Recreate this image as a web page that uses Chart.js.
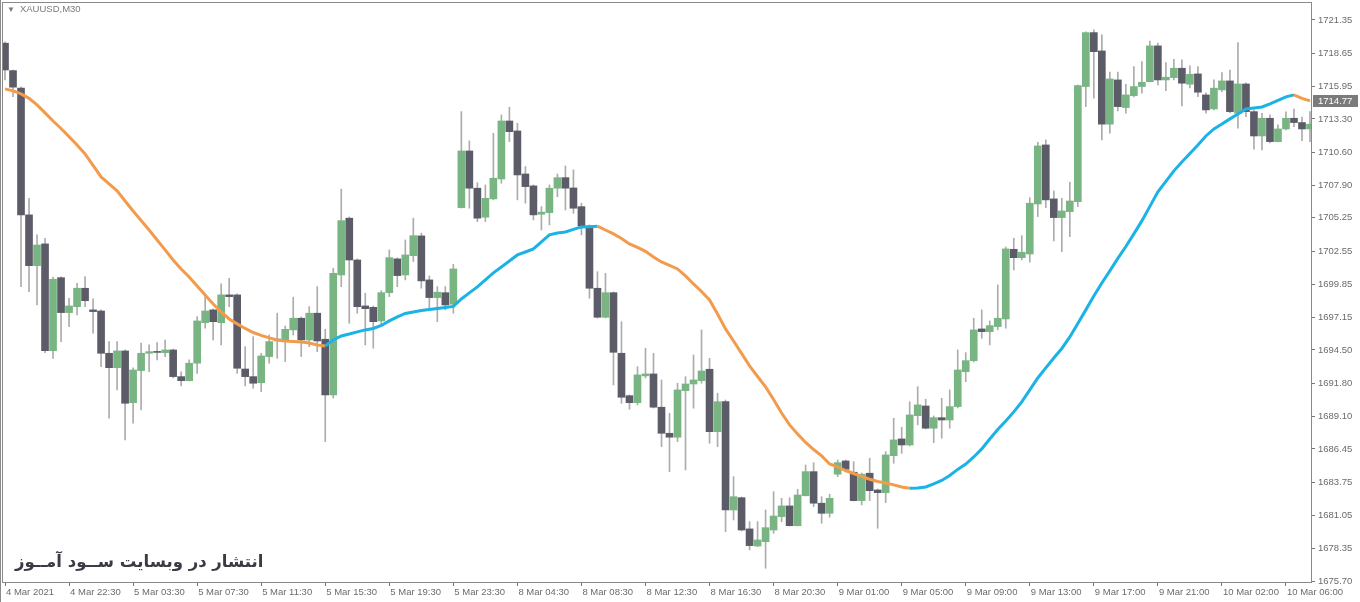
<!DOCTYPE html>
<html>
<head>
<meta charset="utf-8">
<script src="https://cdn.jsdelivr.net/npm/chart.js@4.4.1/dist/chart.umd.min.js"></script>
<style>
html, body { margin: 0; padding: 0; background: #fff; }
#wrap { position: relative; width: 1360px; height: 602px; overflow: hidden; }
canvas { display: block; }
#symbol { position: absolute; left: 7px; top: 3px; font: 9.5px "Liberation Sans", Arial, sans-serif; color: #7a7a7a; line-height: 12px; }
#symbol span { font-size: 8px; margin-right: 5px; }
#watermark { position: absolute; left: 15px; top: 552px; font: bold 16.5px "DejaVu Sans", sans-serif; color: #3b3b45; direction: rtl; white-space: nowrap; }
</style>
</head>
<body>
<div id="wrap">
<canvas id="chart" width="1360" height="602"></canvas>
<div id="symbol"><span>▼</span>XAUUSD,M30</div>
<div id="watermark">انتشار در وبسایت ســود آمــوز</div>
</div>
<script>
// XAUUSD M30 candles with a colour-by-slope moving average
var timeLabels = ['4 Mar 2021', '4 Mar 22:30', '5 Mar 03:30', '5 Mar 07:30', '5 Mar 11:30', '5 Mar 15:30',
    '5 Mar 19:30', '5 Mar 23:30', '8 Mar 04:30', '8 Mar 08:30', '8 Mar 12:30', '8 Mar 16:30', '8 Mar 20:30',
    '9 Mar 01:00', '9 Mar 05:00', '9 Mar 09:00', '9 Mar 13:00', '9 Mar 17:00', '9 Mar 21:00',
    '10 Mar 02:00', '10 Mar 06:00'];
var labelEvery = 8; // one time label every 8 bars

var yTickValues = [1721.35, 1718.65, 1715.95, 1713.30, 1710.60, 1707.90, 1705.25, 1702.55, 1699.85,
    1697.15, 1694.50, 1691.80, 1689.10, 1686.45, 1683.75, 1681.05, 1678.35, 1675.70];

var opens = [1719.46, 1717.23, 1715.80, 1705.49, 1701.36, 1703.13, 1694.44, 1700.38, 1697.54, 1698.02,
    1699.52, 1697.76, 1697.67, 1694.23, 1693.06, 1694.42, 1690.21, 1692.82, 1694.23, 1694.38,
    1694.28, 1694.50, 1692.33, 1692.00, 1693.42, 1696.72, 1697.76, 1696.72, 1698.98, 1698.98,
    1692.95, 1692.33, 1691.84, 1693.96, 1695.23, 1695.31, 1696.13, 1697.08, 1695.31, 1697.49,
    1695.37, 1690.84, 1700.60, 1705.22, 1701.82, 1698.08, 1697.97, 1696.86, 1699.16, 1701.91,
    1700.60, 1702.17, 1703.78, 1700.20, 1698.76, 1699.16, 1698.22, 1706.08, 1710.69, 1707.66,
    1705.30, 1706.79, 1708.41, 1713.13, 1712.32, 1708.82, 1707.85, 1705.54, 1705.67, 1707.66,
    1708.52, 1707.68, 1706.16, 1704.59, 1699.52, 1697.16, 1699.16, 1694.23, 1690.78, 1690.21,
    1692.39, 1692.55, 1689.84, 1687.72, 1687.40, 1691.19, 1691.73, 1692.00, 1692.93, 1687.85,
    1690.29, 1681.48, 1682.48, 1679.94, 1678.55, 1678.90, 1679.85, 1680.94, 1681.81, 1680.20,
    1682.64, 1684.60, 1682.03, 1681.21, 1684.39, 1685.47, 1684.55, 1682.24, 1684.47, 1683.11,
    1682.89, 1685.90, 1687.26, 1686.77, 1689.15, 1689.94, 1688.13, 1688.99, 1688.80, 1689.89,
    1692.73, 1693.63, 1696.21, 1695.99, 1696.40, 1697.02, 1702.69, 1702.01, 1702.31, 1706.38,
    1711.18, 1706.79, 1705.27, 1705.75, 1706.57, 1715.93, 1720.32, 1718.83, 1712.87, 1716.47,
    1714.22, 1715.19, 1715.93, 1716.33, 1719.24, 1716.47, 1716.66, 1717.42, 1716.12, 1716.96,
    1715.25, 1714.11, 1715.66, 1716.39, 1713.76, 1716.14, 1713.89, 1711.91, 1713.35, 1711.45,
    1712.48, 1713.35, 1713.00, 1712.48];

var highs = [1719.56, 1717.28, 1715.90, 1706.84, 1703.86, 1703.59, 1700.42, 1700.44, 1698.71, 1699.93,
    1700.46, 1698.65, 1697.76, 1695.18, 1695.18, 1694.50, 1693.04, 1695.05, 1694.91, 1695.09,
    1695.31, 1694.58, 1692.73, 1693.69, 1697.21, 1698.98, 1697.84, 1699.87, 1700.33, 1699.06,
    1694.77, 1695.58, 1694.23, 1695.72, 1697.49, 1696.45, 1698.79, 1697.19, 1698.02, 1699.65,
    1696.18, 1701.15, 1707.58, 1705.32, 1701.91, 1699.11, 1698.08, 1699.33, 1702.64, 1701.99,
    1703.45, 1705.22, 1704.00, 1700.52, 1699.65, 1699.65, 1701.47, 1713.89, 1711.51, 1708.11,
    1707.93, 1712.13, 1713.62, 1714.25, 1712.95, 1709.42, 1707.93, 1706.16, 1707.93, 1708.82,
    1709.47, 1709.15, 1706.44, 1704.67, 1700.87, 1700.74, 1699.22, 1696.80, 1690.84, 1693.14,
    1694.64, 1694.23, 1692.06, 1689.35, 1691.79, 1692.33, 1694.09, 1696.13, 1693.82, 1690.98,
    1690.43, 1684.19, 1682.54, 1680.53, 1680.53, 1681.48, 1682.97, 1682.43, 1682.48, 1683.17,
    1685.14, 1685.33, 1682.56, 1682.76, 1685.55, 1685.55, 1685.41, 1684.49, 1685.69, 1683.19,
    1686.23, 1688.94, 1688.21, 1690.29, 1691.51, 1690.49, 1689.13, 1690.57, 1691.25, 1694.50,
    1694.28, 1697.08, 1697.76, 1696.86, 1699.79, 1702.88, 1703.59, 1703.80, 1706.89, 1711.40,
    1711.59, 1707.44, 1706.84, 1708.15, 1716.06, 1720.38, 1720.54, 1720.13, 1717.10, 1717.10,
    1716.12, 1717.55, 1717.96, 1719.64, 1719.46, 1717.88, 1718.15, 1718.10, 1717.61, 1717.55,
    1715.41, 1716.47, 1717.06, 1717.28, 1719.51, 1716.23, 1714.03, 1713.76, 1713.62, 1712.81,
    1713.87, 1714.09, 1713.44, 1713.89];

var lows = [1716.47, 1715.11, 1699.65, 1699.24, 1698.16, 1694.28, 1693.82, 1695.18, 1696.40, 1697.35,
    1698.02, 1695.86, 1693.14, 1688.94, 1691.25, 1687.18, 1688.54, 1689.62, 1692.73, 1693.69,
    1693.96, 1692.22, 1691.57, 1691.98, 1692.60, 1696.27, 1695.31, 1694.91, 1698.02, 1692.60,
    1691.57, 1691.38, 1691.11, 1693.42, 1693.82, 1693.55, 1695.72, 1693.96, 1694.77, 1694.36,
    1687.04, 1690.59, 1699.65, 1696.67, 1697.49, 1694.91, 1694.64, 1696.62, 1698.84, 1699.65,
    1700.20, 1701.69, 1699.52, 1697.89, 1696.80, 1697.76, 1697.49, 1706.05, 1706.03, 1704.94,
    1704.94, 1706.71, 1708.06, 1711.45, 1706.71, 1706.44, 1705.08, 1704.26, 1704.67, 1706.97,
    1705.89, 1705.62, 1703.86, 1698.71, 1697.10, 1697.10, 1691.65, 1690.16, 1689.68, 1690.03,
    1692.22, 1689.78, 1686.63, 1684.60, 1687.04, 1684.74, 1689.76, 1691.79, 1686.91, 1686.63,
    1679.72, 1680.67, 1679.77, 1678.23, 1678.50, 1676.74, 1679.58, 1680.53, 1680.18, 1680.18,
    1682.62, 1681.75, 1680.40, 1680.89, 1684.19, 1684.57, 1682.21, 1681.89, 1682.24, 1679.99,
    1682.08, 1685.28, 1686.09, 1686.69, 1688.40, 1688.07, 1686.96, 1687.32, 1688.13, 1689.78,
    1691.92, 1693.52, 1695.45, 1694.91, 1696.13, 1696.27, 1701.01, 1701.82, 1701.64, 1705.35,
    1706.08, 1703.37, 1702.50, 1703.72, 1706.16, 1714.30, 1714.98, 1711.59, 1712.13, 1713.95,
    1713.76, 1715.09, 1715.39, 1716.31, 1716.06, 1715.60, 1716.47, 1714.35, 1715.82, 1715.11,
    1713.76, 1714.03, 1715.49, 1713.79, 1712.54, 1713.48, 1710.83, 1710.77, 1711.34, 1711.42,
    1712.40, 1712.67, 1711.53, 1711.45];

var closes = [1717.28, 1715.88, 1705.49, 1701.36, 1703.04, 1694.44, 1700.25, 1697.54, 1698.08, 1699.52,
    1698.51, 1697.62, 1694.23, 1693.06, 1694.42, 1690.16, 1692.87, 1694.23, 1694.36, 1694.30,
    1694.50, 1692.33, 1692.00, 1693.42, 1696.86, 1697.67, 1696.80, 1698.98, 1698.84, 1693.01,
    1692.33, 1691.79, 1694.01, 1695.18, 1695.40, 1696.18, 1697.08, 1695.31, 1697.49, 1695.23,
    1690.84, 1700.74, 1705.02, 1701.82, 1698.02, 1697.86, 1696.80, 1699.16, 1702.01, 1700.55,
    1702.23, 1703.80, 1700.12, 1698.76, 1699.20, 1698.16, 1701.09, 1710.69, 1707.66, 1705.22,
    1706.84, 1708.47, 1713.13, 1712.26, 1708.74, 1707.79, 1705.49, 1705.71, 1707.66, 1708.52,
    1707.66, 1706.03, 1704.59, 1699.52, 1697.16, 1699.16, 1694.31, 1690.65, 1690.21, 1692.47,
    1692.55, 1689.84, 1687.72, 1687.40, 1691.25, 1691.73, 1692.06, 1692.79, 1687.85, 1690.29,
    1681.48, 1682.56, 1679.85, 1678.58, 1679.04, 1680.04, 1680.99, 1681.81, 1680.20, 1682.70,
    1684.60, 1682.03, 1681.21, 1682.43, 1685.33, 1684.79, 1682.24, 1684.39, 1683.05, 1682.89,
    1685.96, 1687.18, 1686.77, 1689.21, 1690.03, 1688.13, 1688.99, 1688.80, 1689.89, 1692.87,
    1693.63, 1696.13, 1695.99, 1696.48, 1697.08, 1702.72, 1702.01, 1702.45, 1706.44, 1711.10,
    1706.71, 1705.27, 1705.81, 1706.62, 1716.01, 1720.32, 1718.77, 1712.87, 1716.55, 1714.30,
    1715.25, 1715.93, 1716.28, 1719.24, 1716.47, 1716.69, 1717.42, 1716.20, 1716.93, 1715.47,
    1714.03, 1715.80, 1716.39, 1713.89, 1716.14, 1713.89, 1711.91, 1713.35, 1711.45, 1712.48,
    1713.35, 1713.00, 1712.48, 1712.87];

var maValues = [1715.74, 1715.58, 1715.33, 1714.97, 1714.44, 1713.79, 1713.13, 1712.52, 1711.86, 1711.18,
    1710.45, 1709.51, 1708.58, 1708.01, 1707.44, 1706.62, 1705.81, 1705.04, 1704.26, 1703.45,
    1702.64, 1701.82, 1701.09, 1700.44, 1699.71, 1698.98, 1698.24, 1697.59, 1697.02, 1696.62,
    1696.25, 1695.92, 1695.68, 1695.48, 1695.31, 1695.23, 1695.19, 1695.15, 1695.07, 1694.91,
    1694.83, 1695.31, 1695.64, 1695.80, 1695.97, 1696.13, 1696.25, 1696.49, 1696.86, 1697.19,
    1697.47, 1697.59, 1697.71, 1697.80, 1697.88, 1697.96, 1698.04, 1698.65, 1699.14, 1699.63,
    1700.20, 1700.77, 1701.25, 1701.74, 1702.23, 1702.47, 1702.72, 1703.29, 1703.86, 1704.02,
    1704.10, 1704.31, 1704.51, 1704.53, 1704.57, 1704.26, 1703.94, 1703.57, 1703.13, 1702.84,
    1702.52, 1702.07, 1701.66, 1701.38, 1701.09, 1700.52, 1699.87, 1699.26, 1698.57, 1697.43,
    1696.21, 1695.23, 1694.22, 1693.20, 1692.34, 1691.49, 1690.47, 1689.37, 1688.40, 1687.67,
    1686.97, 1686.40, 1685.88, 1685.22, 1684.98, 1684.69, 1684.45, 1684.21, 1683.98, 1683.80,
    1683.68, 1683.52, 1683.35, 1683.25, 1683.27, 1683.35, 1683.60, 1683.88, 1684.29, 1684.78,
    1685.22, 1685.79, 1686.45, 1687.26, 1688.03, 1688.72, 1689.46, 1690.27, 1691.25, 1692.22,
    1693.04, 1693.85, 1694.62, 1695.56, 1696.66, 1697.76, 1698.89, 1699.95, 1700.93, 1701.95,
    1702.92, 1703.94, 1705.00, 1706.18, 1707.36, 1708.21, 1709.07, 1709.80, 1710.49, 1711.18,
    1711.91, 1712.48, 1712.89, 1713.30, 1713.70, 1714.11, 1714.19, 1714.27, 1714.52, 1714.80,
    1715.09, 1715.25, 1714.97, 1714.77];

var upColor = '#78b583';
var downColor = '#5c5c68';
var wickColor = '#acacac';
var maUpColor = '#1bb2e6';
var maDownColor = '#f29b4c';
var axisFont = { family: 'Liberation Sans', size: 9.5 };

var bodies = opens.map(function(o, i) { return { x: i, y: [o, closes[i]] }; });
var wicks = lows.map(function(l, i) { return { x: i, y: [l, highs[i]] }; });
var maPoints = maValues.map(function(v, i) { return { x: i, y: v }; });
var bodyColors = opens.map(function(o, i) { return closes[i] >= o ? upColor : downColor; });

// chart frame + the last MA value box on the price axis
var framePlugin = {
    id: 'frame',
    afterDraw: function(chart) {
        var a = chart.chartArea;
        var ctx = chart.ctx;
        ctx.save();
        ctx.strokeStyle = '#8a8a8a';
        ctx.lineWidth = 1;
        ctx.strokeRect(a.left + 0.5, a.top + 0.5, a.right - a.left, a.bottom - a.top);
        ctx.beginPath();
        ctx.moveTo(0.5, 0);
        ctx.lineTo(0.5, 602);
        ctx.stroke();

        var last = maValues[maValues.length - 1];
        var y = Math.round(chart.scales.y.getPixelForValue(last));
        ctx.fillStyle = '#7b7b7b';
        ctx.fillRect(a.right + 2, y - 6, 45, 12);
        ctx.fillStyle = '#ffffff';
        ctx.font = '9.5px "Liberation Sans", Arial, sans-serif';
        ctx.textBaseline = 'middle';
        ctx.fillText(last.toFixed(2), a.right + 7, y + 0.5);
        ctx.restore();
    }
};

new Chart(document.getElementById('chart'), {
    type: 'bar',
    data: {
        datasets: [
            {
                type: 'line',
                data: maPoints,
                order: 0,
                borderWidth: 3,
                pointRadius: 0,
                borderColor: maUpColor,
                segment: {
                    // orange while the average falls, blue while it rises
                    borderColor: function(c) { return c.p1.parsed.y < c.p0.parsed.y ? maDownColor : maUpColor; }
                }
            },
            {
                data: bodies,
                order: 1,
                backgroundColor: bodyColors,
                barThickness: 7,
                minBarLength: 1,
                grouped: false
            },
            {
                data: wicks,
                order: 2,
                backgroundColor: wickColor,
                barThickness: 1,
                grouped: false
            }
        ]
    },
    options: {
        responsive: false,
        animation: false,
        layout: { padding: { left: 2, top: 2, right: 0, bottom: 0 } },
        plugins: {
            legend: { display: false },
            tooltip: { enabled: false }
        },
        scales: {
            x: {
                type: 'linear',
                min: -0.375,
                max: 163.125,
                offset: false,
                grid: { offset: false, drawOnChartArea: false, tickLength: 4, color: '#777' },
                border: { display: false },
                ticks: {
                    autoSkip: false,
                    maxRotation: 0,
                    align: 'start',
                    labelOffset: 1,
                    padding: 1,
                    color: '#6b6b6b',
                    font: axisFont,
                    callback: function(v) { return timeLabels[v / labelEvery]; }
                },
                afterBuildTicks: function(s) {
                    s.ticks = timeLabels.map(function(t, k) { return { value: k * labelEvery }; });
                },
                afterFit: function(s) { s.height = 20; s.paddingLeft = 0; s.paddingRight = 0; }
            },
            y: {
                position: 'right',
                min: 1675.62,
                max: 1722.81,
                beginAtZero: false,
                grid: { drawOnChartArea: false, tickLength: 4, color: '#777' },
                border: { display: false },
                ticks: {
                    padding: 3,
                    color: '#6b6b6b',
                    font: axisFont,
                    callback: function(v) { return v.toFixed(2); }
                },
                afterBuildTicks: function(s) {
                    s.ticks = yTickValues.map(function(v) { return { value: v }; });
                },
                afterFit: function(s) { s.width = 49; s.paddingTop = 0; s.paddingBottom = 0; }
            }
        }
    },
    plugins: [framePlugin]
});
</script>
</body>
</html>
